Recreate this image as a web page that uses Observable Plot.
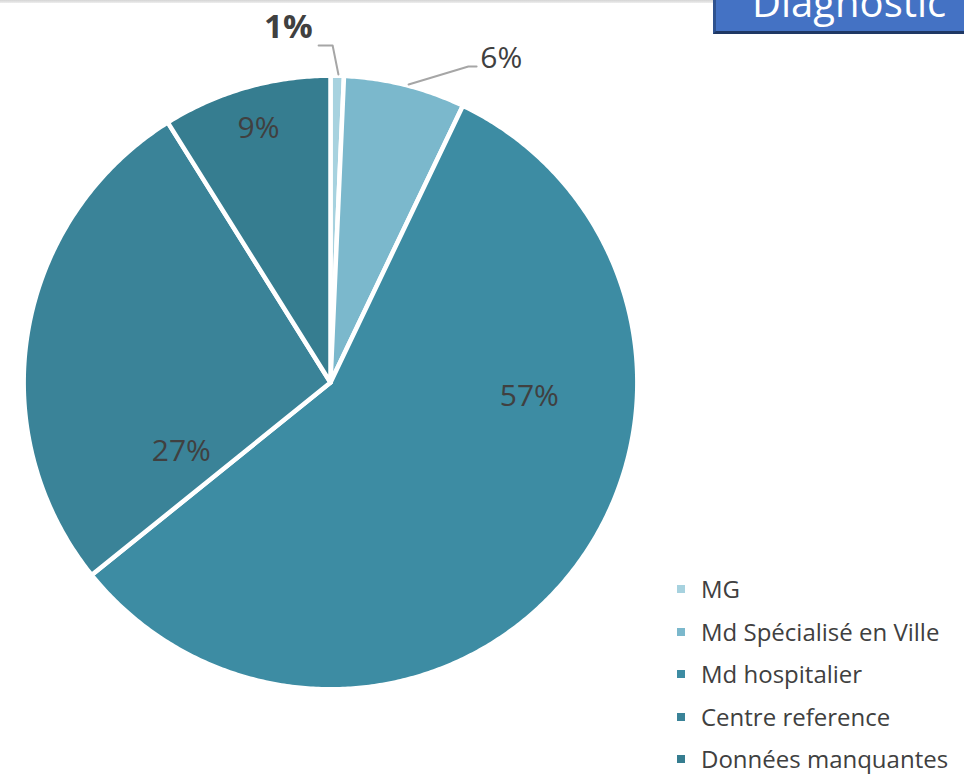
<!DOCTYPE html>
<html>
<head>
<meta charset="utf-8">
<script src="https://cdn.jsdelivr.net/npm/d3@7"></script>
<script src="https://cdn.jsdelivr.net/npm/@observablehq/plot@0.6"></script>
<style>
  html, body { margin: 0; padding: 0; background: #fff; }
  #wrap { position: relative; width: 964px; height: 776px; overflow: hidden; font-family: "Open Sans", "Noto Sans", sans-serif; }
  #topline { position: absolute; left: 0; top: 0; width: 714px; height: 3px; background: linear-gradient(#d4d4d4, #eeeeee); }
  #box { position: absolute; left: 713px; top: -14px; width: 270px; height: 42px; background: #4472C4; border: 3px solid #2F528F; border-bottom-color: #1F3864; }
  #box span { position: absolute; left: 36px; top: -7px; color: #fff; font-size: 40px; line-height: 40px; white-space: nowrap; }
  #chart { position: absolute; left: 0; top: 0; }
  #legend { position: absolute; left: 676px; top: 577px; color: #404040; font-size: 24px; }
  .row { display: flex; align-items: center; height: 24px; line-height: 24px; margin-bottom: 18.5px; white-space: nowrap; }
  .row:last-child { margin-bottom: 0; }
  .sw { width: 8px; height: 8px; margin-right: 16px; margin-left: 1px; }
</style>
</head>
<body>
<div id="wrap">
  <div id="topline"></div>
  <div id="chart"></div>
  <div id="box"><span>Diagnostic</span></div>
  <div id="legend"></div>
</div>
<script>
// ---- data ----
const categories = ["MG", "Md Spécialisé en Ville", "Md hospitalier", "Centre reference", "Données manquantes"];
const shares = [0.7, 6.4, 57.1, 26.9, 8.9];
const shareLabels = ["1%", "6%", "57%", "27%", "9%"];
const sliceColors = ["#a7d2df", "#7bb8cc", "#3d8ca3", "#3a8398", "#367d90"];

// ---- layout (label anchor points, unit-circle coordinates, y up) ----
const labelLayout = [
  {x: -0.138, y: 1.163, bold: true},
  {x: 0.560, y: 1.063, bold: false},
  {x: 0.652, y: -0.046, bold: false},
  {x: -0.489, y: -0.226, bold: false},
  {x: -0.236, y: 0.833, bold: false}
];
const leaderLayout = [
  {id: 0, pts: [[-0.039, 1.105], [0.007, 1.105], [0.026, 1.010]]},
  {id: 1, pts: [[0.479, 1.036], [0.452, 1.036], [0.256, 0.977]]}
];

// ---- build slice polygons from the values ----
const arcs = d3.pie().sort(null).value(d => d)(shares);
const slicePts = [];
arcs.forEach((a, i) => {
  const name = categories[i];
  const R = 1.006;
  slicePts.push({name, x: 0, y: 0});
  const n = Math.max(2, Math.ceil((a.endAngle - a.startAngle) / (Math.PI / 360)));
  for (let k = 0; k <= n; k++) {
    const t = a.startAngle + (a.endAngle - a.startAngle) * k / n;
    slicePts.push({name, x: R * Math.sin(t), y: R * Math.cos(t)});
  }
  slicePts.push({name, x: 0, y: 0});
});

const labels = shareLabels.map((t, i) => ({text: t, ...labelLayout[i]}));
const leaderPts = leaderLayout.flatMap(l => l.pts.map(([x, y]) => ({id: l.id, x, y})));

const plot = Plot.plot({
  width: 964,
  height: 776,
  margin: 0,
  x: {domain: [-1, 1], range: [25, 635], axis: null},
  y: {domain: [-1, 1], range: [687, 77], axis: null},
  color: {domain: categories, range: sliceColors},
  style: {fontFamily: "'Open Sans', 'Noto Sans', sans-serif", background: "transparent"},
  marks: [
    Plot.line(slicePts, {x: "x", y: "y", z: "name", fill: "name", stroke: "#ffffff", strokeWidth: 4.5, strokeLinejoin: "round", curve: "linear"}),
    Plot.line(leaderPts, {x: "x", y: "y", z: "id", stroke: "#a6a6a6", strokeWidth: 2}),
    Plot.text(labels.filter(d => !d.bold), {x: "x", y: "y", text: "text", fontSize: 30, fill: "#404040"}),
    Plot.text(labels.filter(d => d.bold), {x: "x", y: "y", text: "text", fontSize: 33, fontWeight: "bold", fill: "#404040"})
  ]
});
document.getElementById("chart").appendChild(plot);

// legend
const leg = document.getElementById("legend");
categories.forEach((c, i) => {
  const row = document.createElement("div");
  row.className = "row";
  const sw = document.createElement("div");
  sw.className = "sw";
  sw.style.background = sliceColors[i];
  const tx = document.createElement("span");
  tx.textContent = c;
  row.appendChild(sw);
  row.appendChild(tx);
  leg.appendChild(row);
});
</script>
</body>
</html>
